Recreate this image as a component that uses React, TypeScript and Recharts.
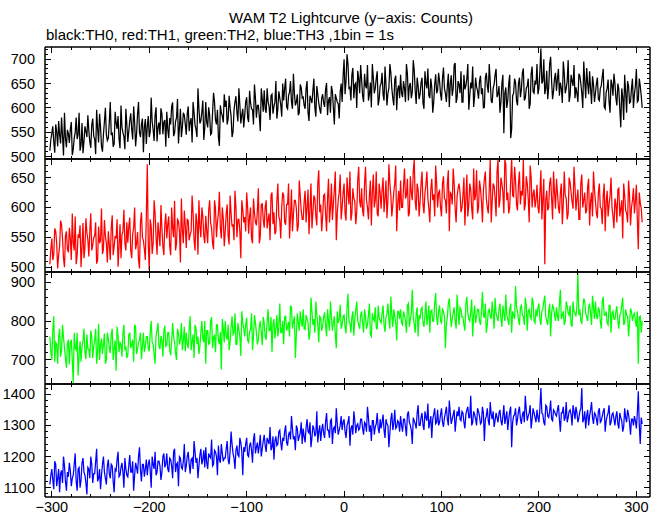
import React from 'react';
import { LineChart, Line, XAxis, YAxis } from 'recharts';

// time bins (seconds): first bin and bin width (1bin = 1s)
const T_START = -302;
const T_STEP = 1;

// TH0 (black) - even bins (-302, -300, ...)
const th0 = [
  512, 548, 530, 566, 521, 545, 580, 502, 538, 555,
  528, 571, 515, 549, 536, 590, 524, 507, 562, 540,
  553, 518, 578, 536, 596, 529, 561, 510, 572, 545,
  538, 612, 550, 526, 569, 583, 517, 560, 541, 598,
  530, 574, 556, 603, 521, 588, 549, 566, 509, 577,
  562, 540, 621, 555, 585, 531, 570, 599, 546, 575,
  592, 538, 566, 611, 548, 580, 527, 598, 560, 585,
  545, 603, 571, 529, 590, 556, 640, 568, 592, 534,
  612, 560, 585, 548, 631, 575, 596, 522, 590, 570,
  602, 566, 625, 583, 550, 612, 591, 640, 568, 598,
  585, 622, 571, 610, 596, 648, 580, 605, 552, 618,
  636, 590, 612, 575, 628, 603, 655, 598, 620, 582,
  615, 660, 598, 632, 612, 670, 605, 628, 590, 641,
  622, 598, 655, 573, 618, 636, 600, 645, 610, 588,
  628, 602, 651, 615, 590, 634, 566, 620, 608, 632,
  612, 700, 655, 690, 642, 668, 620, 651, 676, 630,
  658, 612, 645, 688, 628, 601, 662, 640, 675, 618,
  650, 628, 685, 605, 641, 672, 620, 658, 595, 646,
  668, 622, 640, 690, 615, 651, 632, 677, 608, 645,
  628, 662, 598, 650, 681, 620, 642, 611, 669, 636,
  655, 615, 683, 630, 646, 602, 667, 640, 692, 621,
  648, 675, 612, 638, 660, 596, 652, 685, 624, 643,
  619, 666, 640, 601, 672, 631, 655, 610, 648, 680,
  628, 590, 650, 548, 642, 615, 668, 556, 630, 652,
  605, 662, 638, 681, 620, 645, 598, 670, 633, 656,
  690, 640, 722, 655, 628, 676, 642, 705, 618, 660,
  635, 680, 652, 610, 671, 640, 698, 625, 655, 688,
  642, 612, 666, 630, 695, 620, 650, 675, 608, 648,
  630, 662, 615, 645, 680, 598, 640, 612, 658, 625,
  650, 605, 638, 560, 622, 668, 590, 645, 612, 660,
  628, 680, 615, 645, 600,
];
// TH0 (black) - odd bins (-301, -299, ...)
const th0Odd = [
  535, 562, 508, 550, 573, 527, 541, 590, 519, 547,
  556, 503, 538, 580, 545, 512, 569, 531, 552, 585,
  530, 565, 542, 505, 558, 588, 521, 546, 600, 533,
  571, 544, 520, 592, 557, 536, 605, 549, 515, 566,
  552, 589, 535, 570, 547, 612, 540, 578, 560, 526,
  583, 551, 572, 532, 601, 560, 545, 588, 571, 520,
  556, 579, 603, 542, 572, 618, 560, 540, 590, 566,
  588, 552, 579, 612, 565, 540, 598, 574, 615, 559,
  570, 601, 545, 590, 612, 566, 540, 605, 583, 628,
  615, 578, 600, 540, 595, 624, 572, 606, 585, 560,
  612, 580, 635, 598, 566, 620, 605, 583, 640, 592,
  598, 640, 603, 625, 588, 612, 578, 634, 606, 650,
  640, 602, 625, 655, 598, 630, 612, 585, 648, 620,
  605, 640, 590, 625, 610, 660, 582, 628, 598, 620,
  610, 638, 585, 622, 645, 600, 628, 612, 578, 650,
  665, 628, 710, 640, 615, 682, 648, 600, 660, 688,
  625, 670, 640, 615, 652, 690, 630, 660, 605, 645,
  672, 615, 648, 630, 690, 640, 605, 666, 638, 620,
  630, 655, 612, 670, 645, 620, 698, 635, 662, 618,
  652, 610, 675, 640, 625, 660, 590, 648, 630, 672,
  628, 660, 640, 612, 670, 650, 625, 688, 610, 655,
  630, 612, 668, 645, 690, 625, 640, 602, 662, 635,
  655, 628, 600, 662, 645, 690, 615, 640, 668, 622,
  645, 612, 668, 630, 600, 650, 538, 625, 660, 615,
  650, 622, 672, 615, 640, 660, 608, 685, 630, 648,
  628, 675, 650, 700, 640, 618, 690, 655, 635, 672,
  660, 625, 640, 695, 630, 655, 612, 668, 645, 620,
  630, 670, 650, 600, 655, 682, 628, 640, 665, 612,
  650, 618, 640, 665, 602, 632, 658, 590, 648, 670,
  620, 650, 598, 640, 575, 632, 655, 610, 640, 600,
  645, 612, 660, 625,
];

// TH1 (red) - even bins
const th1 = [
  505, 548, 522, 560, 498, 535, 571, 515, 552, 530,
  566, 512, 541, 585, 520, 549, 500, 574, 533, 558,
  518, 590, 537, 552, 506, 568, 545, 522, 579, 540,
  560, 512, 587, 535, 548, 501, 572, 554, 596, 528,
  541, 583, 515, 566, 530, 559, 498, 592, 545, 512,
  672, 494, 568, 540, 590, 521, 556, 604, 535, 572,
  548, 585, 520, 566, 611, 540, 577, 508, 562, 595,
  532, 578, 555, 620, 546, 590, 521, 568, 600, 552,
  586, 540, 612, 565, 530, 598, 575, 626, 548, 582,
  560, 605, 538, 590, 572, 628, 550, 580, 515, 597,
  584, 625, 556, 600, 540, 591, 570, 632, 552, 606,
  566, 612, 580, 545, 625, 592, 560, 640, 578, 600,
  620, 571, 605, 548, 630, 588, 612, 560, 645, 595,
  580, 628, 600, 555, 640, 592, 615, 570, 662, 605,
  585, 622, 560, 648, 600, 579, 630, 545, 612, 655,
  600, 640, 578, 625, 660, 590, 615, 572, 645, 610,
  632, 585, 668, 600, 620, 570, 655, 612, 590, 640,
  598, 650, 615, 582, 672, 620, 605, 640, 560, 628,
  645, 600, 665, 620, 585, 652, 612, 680, 595, 630,
  610, 660, 590, 638, 615, 575, 648, 622, 670, 600,
  628, 585, 652, 612, 640, 560, 622, 665, 598, 618,
  640, 592, 620, 570, 655, 605, 630, 580, 612, 662,
  600, 632, 575, 648, 615, 590, 680, 610, 636, 585,
  680, 612, 640, 590, 672, 625, 600, 681, 618, 645,
  595, 660, 628, 680, 605, 640, 575, 650, 622, 600,
  638, 590, 662, 615, 505, 628, 600, 650, 580, 625,
  648, 600, 625, 572, 660, 615, 590, 642, 610, 668,
  595, 630, 580, 655, 612, 590, 635, 570, 625, 660,
  610, 582, 640, 598, 620, 560, 628, 605, 650, 585,
  615, 575, 632, 598, 548, 620, 590, 645, 570, 612,
  590, 638, 530, 608, 575,
];
// TH1 (red) - odd bins
const th1Odd = [
  530, 512, 565, 540, 520, 578, 548, 500, 560, 525,
  548, 590, 528, 505, 555, 570, 535, 515, 582, 546,
  560, 528, 550, 575, 512, 540, 598, 530, 552, 508,
  538, 565, 520, 552, 580, 535, 515, 560, 540, 575,
  568, 528, 555, 600, 540, 512, 575, 550, 530, 585,
  540, 580, 522, 612, 550, 575, 535, 565, 520, 590,
  572, 535, 600, 550, 528, 580, 560, 615, 540, 570,
  580, 545, 560, 590, 528, 575, 612, 550, 585, 540,
  560, 595, 575, 540, 612, 550, 590, 565, 600, 535,
  590, 552, 620, 568, 545, 600, 580, 560, 612, 575,
  560, 600, 585, 548, 615, 575, 595, 540, 605, 580,
  600, 565, 590, 620, 572, 555, 610, 585, 548, 625,
  575, 605, 640, 585, 560, 612, 598, 570, 620, 580,
  610, 575, 630, 598, 565, 620, 585, 640, 592, 560,
  620, 590, 615, 575, 640, 605, 660, 590, 625, 580,
  625, 590, 650, 605, 578, 632, 610, 592, 668, 600,
  595, 640, 612, 580, 645, 625, 600, 660, 585, 625,
  630, 592, 645, 612, 640, 585, 625, 670, 605, 595,
  600, 635, 615, 648, 590, 625, 660, 610, 640, 585,
  640, 605, 625, 660, 598, 630, 612, 585, 640, 625,
  600, 640, 615, 590, 662, 625, 605, 640, 575, 632,
  625, 600, 650, 615, 585, 640, 598, 665, 620, 590,
  645, 610, 628, 660, 600, 630, 575, 640, 615, 660,
  600, 650, 625, 680, 612, 590, 645, 620, 668, 605,
  640, 605, 620, 595, 652, 615, 670, 600, 630, 612,
  600, 625, 580, 648, 612, 595, 640, 615, 660, 598,
  625, 590, 640, 605, 620, 580, 650, 625, 598, 635,
  615, 580, 640, 600, 625, 595, 648, 610, 585, 630,
  590, 625, 600, 572, 640, 608, 585, 620, 600, 565,
  605, 630, 585, 612, 640, 595, 575, 620, 600, 632,
  610, 580, 625, 598,
];

// TH2 (green) - even bins
const th2 = [
  760, 700, 812, 745, 690, 780, 725, 758, 705, 742,
  688, 752, 640, 730, 770, 712, 695, 748, 720, 765,
  728, 775, 705, 750, 690, 792, 738, 715, 768, 700,
  755, 718, 780, 730, 672, 762, 745, 708, 790, 735,
  712, 768, 740, 695, 785, 728, 752, 702, 770, 735,
  760, 722, 800, 740, 690, 775, 735, 762, 708, 788,
  738, 770, 712, 795, 745, 700, 768, 752, 725, 785,
  770, 730, 812, 748, 705, 782, 760, 735, 800, 745,
  690, 775, 742, 810, 758, 720, 790, 740, 675, 780,
  800, 752, 725, 785, 765, 820, 740, 778, 710, 795,
  760, 808, 745, 780, 725, 815, 770, 752, 800, 738,
  795, 752, 830, 775, 720, 805, 780, 760, 845, 770,
  740, 812, 785, 760, 835, 798, 705, 820, 775, 800,
  830, 778, 805, 752, 860, 790, 770, 815, 745, 808,
  785, 822, 760, 800, 850, 775, 812, 730, 795, 842,
  790, 815, 768, 870, 795, 810, 762, 828, 800, 780,
  825, 770, 812, 790, 845, 760, 805, 835, 778, 810,
  795, 840, 772, 818, 800, 862, 785, 812, 750, 825,
  830, 790, 815, 770, 845, 805, 880, 792, 820, 760,
  805, 835, 785, 850, 812, 770, 828, 800, 872, 790,
  840, 795, 825, 730, 810, 858, 785, 820, 800, 868,
  790, 830, 810, 775, 862, 805, 825, 760, 840, 812,
  830, 790, 875, 808, 770, 825, 812, 850, 780, 820,
  800, 845, 785, 820, 868, 805, 830, 770, 815, 890,
  825, 790, 840, 812, 860, 775, 830, 805, 850, 795,
  812, 845, 790, 830, 865, 800, 825, 760, 840, 815,
  835, 800, 880, 815, 790, 850, 820, 840, 785, 825,
  812, 922, 830, 795, 858, 820, 800, 845, 790, 835,
  850, 805, 828, 780, 862, 815, 795, 840, 770, 825,
  805, 838, 780, 820, 860, 795, 815, 760, 832, 800,
  820, 785, 690, 812, 800,
];
// TH2 (green) - odd bins
const th2Odd = [
  720, 775, 695, 740, 760, 708, 790, 730, 680, 752,
  745, 700, 770, 725, 660, 748, 735, 780, 702, 728,
  705, 760, 735, 780, 722, 700, 755, 740, 690, 770,
  730, 765, 700, 750, 785, 720, 740, 768, 725, 705,
  765, 730, 752, 790, 715, 745, 770, 735, 720, 760,
  730, 770, 745, 715, 762, 795, 728, 750, 775, 735,
  770, 725, 748, 760, 718, 780, 740, 795, 750, 722,
  742, 780, 725, 765, 790, 740, 715, 772, 755, 800,
  775, 740, 800, 730, 765, 790, 750, 772, 805, 745,
  760, 790, 745, 812, 770, 740, 795, 760, 825, 780,
  790, 750, 772, 820, 760, 795, 740, 785, 770, 810,
  760, 798, 775, 810, 790, 755, 815, 785, 770, 800,
  810, 775, 798, 840, 780, 812, 765, 795, 825, 785,
  780, 815, 795, 770, 825, 805, 850, 790, 812, 775,
  810, 790, 830, 775, 812, 795, 765, 825, 805, 780,
  812, 785, 835, 800, 770, 825, 805, 850, 790, 815,
  795, 830, 780, 815, 765, 820, 800, 785, 840, 800,
  820, 790, 810, 845, 780, 815, 830, 795, 825, 805,
  795, 825, 800, 840, 785, 820, 810, 770, 835, 815,
  830, 795, 815, 790, 840, 825, 800, 845, 810, 825,
  800, 830, 812, 790, 845, 820, 805, 835, 780, 825,
  835, 810, 790, 845, 820, 800, 855, 815, 795, 830,
  800, 825, 815, 845, 790, 830, 805, 820, 860, 810,
  830, 805, 840, 800, 815, 790, 845, 825, 805, 835,
  805, 835, 815, 790, 840, 825, 810, 860, 800, 830,
  835, 805, 825, 850, 812, 790, 845, 820, 835, 800,
  812, 845, 805, 825, 800, 838, 815, 790, 850, 820,
  840, 815, 800, 830, 850, 810, 835, 820, 865, 805,
  812, 835, 800, 850, 815, 825, 790, 840, 820, 805,
  825, 800, 815, 840, 790, 830, 812, 795, 825, 815,
  800, 825, 810, 770,
];

// TH3 (blue) - even bins
const th3 = [
  1110, 1160, 1095, 1175, 1130, 1085, 1155, 1200, 1120, 1150,
  1180, 1105, 1140, 1210, 1090, 1165, 1125, 1195, 1140, 1078,
  1160, 1200, 1115, 1145, 1225, 1130, 1095, 1175, 1150, 1110,
  1190, 1130, 1170, 1085, 1155, 1215, 1140, 1180, 1100, 1160,
  1135, 1205, 1150, 1090, 1180, 1145, 1230, 1120, 1175, 1160,
  1140, 1190, 1100, 1175, 1215, 1150, 1185, 1125, 1200, 1165,
  1210, 1150, 1190, 1130, 1225, 1175, 1105, 1195, 1160, 1240,
  1170, 1215, 1145, 1195, 1250, 1180, 1130, 1205, 1175, 1220,
  1230, 1160, 1200, 1255, 1175, 1215, 1140, 1190, 1240, 1185,
  1195, 1250, 1175, 1280, 1210, 1160, 1235, 1200, 1245, 1140,
  1215, 1260, 1200, 1245, 1180, 1275, 1230, 1210, 1270, 1225,
  1270, 1215, 1250, 1295, 1230, 1190, 1265, 1240, 1285, 1220,
  1250, 1300, 1235, 1280, 1330, 1255, 1220, 1290, 1265, 1310,
  1290, 1245, 1320, 1275, 1230, 1300, 1265, 1345, 1280, 1250,
  1305, 1260, 1340, 1285, 1315, 1240, 1295, 1355, 1270, 1300,
  1285, 1320, 1260, 1310, 1235, 1300, 1345, 1275, 1305, 1290,
  1320, 1270, 1305, 1360, 1280, 1250, 1315, 1295, 1340, 1275,
  1290, 1335, 1260, 1305, 1230, 1320, 1285, 1350, 1295, 1310,
  1330, 1280, 1320, 1265, 1345, 1300, 1240, 1315, 1290, 1365,
  1300, 1340, 1285, 1325, 1370, 1310, 1260, 1335, 1305, 1350,
  1310, 1355, 1295, 1340, 1320, 1380, 1305, 1335, 1280, 1345,
  1360, 1315, 1340, 1290, 1350, 1325, 1395, 1310, 1335, 1300,
  1345, 1305, 1360, 1250, 1330, 1315, 1375, 1320, 1295, 1340,
  1310, 1350, 1300, 1365, 1325, 1285, 1345, 1230, 1330, 1355,
  1320, 1360, 1305, 1345, 1395, 1315, 1340, 1290, 1355, 1325,
  1350, 1310, 1420, 1335, 1300, 1360, 1325, 1380, 1315, 1345,
  1330, 1365, 1280, 1340, 1315, 1375, 1325, 1350, 1300, 1345,
  1360, 1310, 1345, 1420, 1320, 1290, 1350, 1330, 1375, 1305,
  1335, 1300, 1355, 1315, 1345, 1280, 1330, 1365, 1310, 1340,
  1300, 1345, 1290, 1325, 1280, 1355, 1310, 1335, 1270, 1320,
  1330, 1290, 1410, 1240, 1305,
];
// TH3 (blue) - odd bins
const th3Odd = [
  1140, 1125, 1185, 1105, 1160, 1145, 1115, 1170, 1090, 1135,
  1155, 1130, 1175, 1120, 1160, 1100, 1180, 1150, 1115, 1165,
  1130, 1175, 1145, 1185, 1120, 1160, 1140, 1200, 1130, 1170,
  1145, 1175, 1120, 1160, 1190, 1135, 1165, 1150, 1195, 1140,
  1170, 1150, 1185, 1140, 1165, 1200, 1155, 1175, 1135, 1190,
  1175, 1155, 1200, 1160, 1140, 1185, 1170, 1150, 1210, 1175,
  1160, 1195, 1170, 1215, 1150, 1180, 1200, 1165, 1185, 1150,
  1200, 1175, 1190, 1160, 1215, 1195, 1170, 1225, 1190, 1165,
  1180, 1210, 1195, 1170, 1220, 1200, 1235, 1180, 1210, 1195,
  1225, 1190, 1215, 1240, 1195, 1220, 1205, 1260, 1215, 1230,
  1240, 1205, 1235, 1220, 1255, 1210, 1245, 1235, 1200, 1250,
  1235, 1260, 1240, 1220, 1265, 1250, 1235, 1280, 1245, 1260,
  1280, 1245, 1270, 1255, 1290, 1265, 1300, 1250, 1275, 1240,
  1265, 1295, 1280, 1310, 1260, 1290, 1275, 1245, 1300, 1285,
  1275, 1310, 1285, 1260, 1320, 1290, 1275, 1305, 1285, 1330,
  1310, 1280, 1300, 1330, 1290, 1270, 1315, 1300, 1285, 1320,
  1290, 1310, 1280, 1325, 1300, 1315, 1270, 1305, 1290, 1320,
  1310, 1285, 1320, 1300, 1275, 1340, 1305, 1290, 1315, 1280,
  1300, 1320, 1295, 1335, 1310, 1285, 1325, 1305, 1340, 1300,
  1325, 1300, 1345, 1315, 1290, 1330, 1320, 1355, 1310, 1300,
  1335, 1310, 1325, 1360, 1300, 1340, 1320, 1350, 1315, 1330,
  1320, 1345, 1310, 1335, 1360, 1325, 1300, 1345, 1320, 1355,
  1330, 1310, 1340, 1320, 1355, 1300, 1335, 1345, 1315, 1325,
  1340, 1315, 1330, 1305, 1345, 1320, 1360, 1310, 1335, 1300,
  1345, 1320, 1335, 1310, 1350, 1330, 1365, 1320, 1340, 1310,
  1325, 1355, 1340, 1310, 1365, 1330, 1345, 1320, 1350, 1335,
  1350, 1320, 1340, 1360, 1325, 1310, 1345, 1335, 1365, 1320,
  1340, 1325, 1355, 1310, 1345, 1330, 1300, 1350, 1325, 1340,
  1320, 1345, 1310, 1330, 1355, 1315, 1340, 1300, 1335, 1320,
  1330, 1305, 1340, 1315, 1295, 1325, 1350, 1310, 1320, 1300,
  1315, 1340, 1300, 1325,
];

// tick labels
const xMajorTicks = [-300, -200, -100, 0, 100, 200, 300];
const xMinorStep = 20;
const th0Majors = [500, 550, 600, 650, 700];
const th1Majors = [500, 550, 600, 650];
const th2Majors = [700, 800, 900];
const th3Majors = [1100, 1200, 1300, 1400];

const TITLE = 'WAM T2 Lightcurve (y\u2212axis: Counts)';
const SUBTITLE = 'black:TH0, red:TH1, green:TH2, blue:TH3 ,1bin = 1s';

const FONT = '"Liberation Sans", Arial, Helvetica, sans-serif';
const X_DOMAIN: [number, number] = [-307, 314];

// interleave the typed even/odd bins into one table
const pick = (even: number[], odd: number[], k: number) => (k % 2 === 0 ? even[k >> 1] : odd[k >> 1]);
const N_BINS = th0.length + th0Odd.length;
const rows = Array.from({ length: N_BINS }, (_, k) => ({
  t: T_START + k * T_STEP,
  th0: pick(th0, th0Odd, k),
  th1: pick(th1, th1Odd, k),
  th2: pick(th2, th2Odd, k),
  th3: pick(th3, th3Odd, k),
}));

function buildTicks(lo: number, hi: number, step: number) {
  const out: number[] = [];
  const start = Math.ceil(lo / step) * step;
  for (let v = start; v <= hi; v += step) out.push(v);
  return out;
}

const xTicks = buildTicks(-300, 300, xMinorStep);

const fmt = (v: number) => (v < 0 ? '\u2212' + Math.abs(v) : String(v));

type Panel = {
  key: string;
  color: string;
  domain: [number, number];
  majors: number[];
  minorStep: number;
  top: number;
  height: number;
};

const panels: Panel[] = [
  { key: 'th0', color: '#000000', domain: [495, 725], majors: th0Majors, minorStep: 10, top: 47, height: 112 },
  { key: 'th1', color: '#ff0000', domain: [492, 681], majors: th1Majors, minorStep: 10, top: 159, height: 113 },
  { key: 'th2', color: '#00ff00', domain: [638, 926], majors: th2Majors, minorStep: 20, top: 272, height: 112 },
  { key: 'th3', color: '#0000ff', domain: [1070, 1433], majors: th3Majors, minorStep: 20, top: 384, height: 113 },
];

const makeYTick = (majors: number[], side: 'left' | 'right') => (props: any) => {
  const { x, y, payload } = props;
  const v = payload.value;
  const isMajor = majors.includes(v);
  const len = isMajor ? 6 : 3;
  const dir = side === 'left' ? 1 : -1;
  return (
    <g>
      <line x1={x} y1={y} x2={x + dir * len} y2={y} stroke="#000" strokeWidth={1} shapeRendering="crispEdges" />
      {side === 'left' && isMajor ? (
        <text x={x - 10} y={y + 5} textAnchor="end" fontFamily={FONT} fontSize={14.5} fill="#000">
          {fmt(v)}
        </text>
      ) : null}
    </g>
  );
};

const makeXTick = (side: 'top' | 'bottom', showLabels: boolean) => (props: any) => {
  const { x, y, payload } = props;
  const v = payload.value;
  const isMajor = xMajorTicks.includes(v);
  const len = isMajor ? 6 : 3;
  const dir = side === 'bottom' ? -1 : 1;
  return (
    <g>
      <line x1={x} y1={y} x2={x} y2={y + dir * len} stroke="#000" strokeWidth={1} shapeRendering="crispEdges" />
      {side === 'bottom' && showLabels && isMajor ? (
        <text x={x} y={y + 15} textAnchor="middle" fontFamily={FONT} fontSize={14.5} fill="#000">
          {fmt(v)}
        </text>
      ) : null}
    </g>
  );
};

const PAD = 5;
const AXIS_LINE = { stroke: '#000', strokeWidth: 1.5 };

function PanelChart({ p, last }: { p: Panel; last: boolean }) {
  const extraBottom = last ? 20 : 0;
  const h = p.height + PAD * 2 + extraBottom;
  const yTicks = buildTicks(p.domain[0], p.domain[1], p.minorStep);
  return (
    <div style={{ position: 'absolute', left: 0, top: p.top - PAD, width: 661, height: h }}>
      <LineChart
        width={661}
        height={h}
        data={rows}
        margin={{ top: PAD - 1, bottom: PAD - 1 + extraBottom, left: 0, right: 0 }}
      >
        <XAxis
          xAxisId="b"
          dataKey="t"
          type="number"
          orientation="bottom"
          domain={X_DOMAIN}
          allowDataOverflow
          ticks={xTicks}
          interval={0}
          height={1}
          tickSize={0}
          tickMargin={0}
          tickLine={false}
          axisLine={AXIS_LINE}
          tick={makeXTick('bottom', last)}
        />
        <XAxis
          xAxisId="t"
          dataKey="t"
          type="number"
          orientation="top"
          domain={X_DOMAIN}
          allowDataOverflow
          ticks={xTicks}
          interval={0}
          height={1}
          tickSize={0}
          tickMargin={0}
          tickLine={false}
          axisLine={AXIS_LINE}
          tick={makeXTick('top', false)}
        />
        <YAxis
          yAxisId="l"
          orientation="left"
          type="number"
          domain={p.domain}
          allowDataOverflow
          ticks={yTicks}
          interval={0}
          width={45}
          tickSize={0}
          tickMargin={0}
          tickLine={false}
          axisLine={AXIS_LINE}
          tick={makeYTick(p.majors, 'left')}
        />
        <YAxis
          yAxisId="r"
          orientation="right"
          type="number"
          domain={p.domain}
          allowDataOverflow
          ticks={yTicks}
          interval={0}
          width={11}
          tickSize={0}
          tickMargin={0}
          tickLine={false}
          axisLine={AXIS_LINE}
          tick={makeYTick(p.majors, 'right')}
        />
        <Line
          xAxisId="b"
          yAxisId="l"
          type="linear"
          dataKey={p.key}
          stroke={p.color}
          strokeWidth={1.25}
          dot={false}
          activeDot={false}
          isAnimationActive={false}
        />
      </LineChart>
    </div>
  );
}

export default function App() {
  return (
    <div style={{ position: 'absolute', left: 0, top: 0, width: 661, height: 515, background: '#fff' }}>
      <svg width={661} height={46} style={{ position: 'absolute', left: 0, top: 0 }}>
        <text x={351} y={23} textAnchor="middle" fontFamily={FONT} fontSize={15} fill="#000">
          {TITLE}
        </text>
        <text x={46} y={40} fontFamily={FONT} fontSize={15} fill="#000">
          {SUBTITLE}
        </text>
      </svg>
      {panels.map((p, i) => (
        <PanelChart key={p.key} p={p} last={i === panels.length - 1} />
      ))}
    </div>
  );
}
